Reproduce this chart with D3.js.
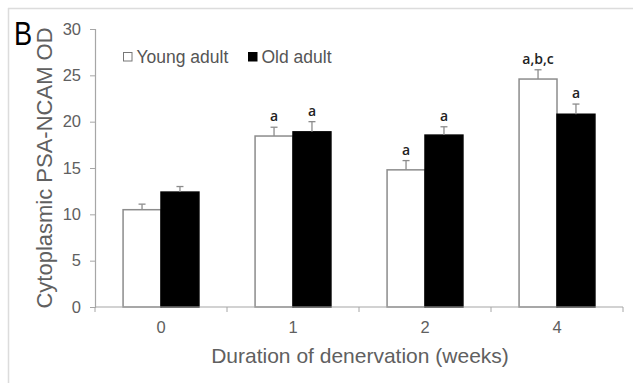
<!DOCTYPE html>
<html>
<head>
<meta charset="utf-8">
<script src="https://cdn.jsdelivr.net/npm/d3@7"></script>
<style>
  body { margin: 0; background: #fff; }
  svg { display: block; }
</style>
</head>
<body>
<div class="canvas"></div>
<script>
// chart values
const weeks = ['0', '1', '2', '4']
const groups = ['Young adult', 'Old adult']
const youngMean = [10.5, 18.45, 14.8, 24.6]
const youngErr = [0.6, 0.95, 1.0, 1.0]
const oldMean = [12.4, 18.9, 18.55, 20.8]
const oldErr = [0.6, 1.1, 0.9, 1.1]
const youngSig = ['', 'a', 'a', 'a,b,c']
const oldSig = ['', 'a', 'a', 'a']
const yTicks = [0, 5, 10, 15, 20, 25, 30]

const width = 633
const height = 383

const svg = d3.select('.canvas')
    .append('svg')
    .attr('width', width)
    .attr('height', height)

// light frame around the panel
svg.append('line')
    .attr('x1', 8).attr('x2', width).attr('y1', 8.5).attr('y2', 8.5)
    .attr('stroke', '#dcdcdc').attr('stroke-width', 1.5)
svg.append('line')
    .attr('x1', 8.5).attr('x2', 8.5).attr('y1', 8).attr('y2', height)
    .attr('stroke', '#dcdcdc').attr('stroke-width', 1.5)

const x = d3.scaleBand()
    .domain(weeks)
    .range([95, 623])
    .paddingInner(0)
    .paddingOuter(0)

const xs = d3.scaleBand()
    .domain(groups)
    .range([0, x.bandwidth()])
    .paddingOuter(0.74)

const y = d3.scaleLinear()
    .domain([0, 30])
    .range([307, 29])

const data = []
weeks.forEach((w, i) => {
    data.push({ week: w, group: groups[0], mean: youngMean[i], err: youngErr[i], sig: youngSig[i] })
    data.push({ week: w, group: groups[1], mean: oldMean[i], err: oldErr[i], sig: oldSig[i] })
})

const axisColor = '#a6a6a6'
const font = 'Liberation Sans, Arial, sans-serif'

// bars
svg.selectAll('rect.bar')
    .data(data)
    .enter()
    .append('rect')
    .attr('class', 'bar')
    .attr('x', d => x(d.week) + xs(d.group))
    .attr('y', d => y(d.mean))
    .attr('width', xs.bandwidth())
    .attr('height', d => y(0) - y(d.mean))
    .attr('fill', d => d.group === groups[0] ? '#fff' : '#000')
    .attr('stroke', d => d.group === groups[0] ? '#8c8c8c' : '#000')
    .attr('stroke-width', 1.5)

// error bars (upper only)
const eb = svg.selectAll('g.err')
    .data(data)
    .enter()
    .append('g')
    .attr('class', 'err')
    .attr('stroke', '#8c8c8c')
    .attr('stroke-width', 1.3)

eb.append('line')
    .attr('x1', d => x(d.week) + xs(d.group) + xs.bandwidth() / 2)
    .attr('x2', d => x(d.week) + xs(d.group) + xs.bandwidth() / 2)
    .attr('y1', d => y(d.mean))
    .attr('y2', d => y(d.mean + d.err))

eb.append('line')
    .attr('x1', d => x(d.week) + xs(d.group) + xs.bandwidth() / 2 - 3.5)
    .attr('x2', d => x(d.week) + xs(d.group) + xs.bandwidth() / 2 + 3.5)
    .attr('y1', d => y(d.mean + d.err))
    .attr('y2', d => y(d.mean + d.err))

// significance letters
svg.selectAll('text.sig')
    .data(data.filter(d => d.sig))
    .enter()
    .append('text')
    .attr('class', 'sig')
    .attr('x', d => x(d.week) + xs(d.group) + xs.bandwidth() / 2)
    .attr('y', d => y(d.mean + d.err) - 6)
    .attr('text-anchor', 'middle')
    .attr('font-family', 'Open Sans, sans-serif')
    .attr('font-weight', 600)
    .attr('font-size', 14)
    .attr('fill', '#222')
    .text(d => d.sig)

// axes
const yAxis = d3.axisLeft(y)
    .tickValues(yTicks)
    .tickSize(5)
    .tickPadding(9)

const yAxisGroup = svg.append('g')
    .attr('transform', 'translate(95, 0)')
    .call(yAxis)

const xAxis = d3.axisBottom(x)
    .tickSize(0)
    .tickPadding(14)

const xAxisGroup = svg.append('g')
    .attr('transform', `translate(0, ${y(0)})`)
    .call(xAxis)

// x ticks sit between categories
xAxisGroup.selectAll('line.sep')
    .data(d3.range(weeks.length + 1))
    .enter()
    .append('line')
    .attr('class', 'sep')
    .attr('x1', i => 95 + i * x.step())
    .attr('x2', i => 95 + i * x.step())
    .attr('y1', 0)
    .attr('y2', 5)
    .attr('stroke', axisColor)

;[yAxisGroup, xAxisGroup].forEach(g => {
    g.select('.domain').attr('stroke', axisColor).attr('stroke-width', 1.2)
    g.selectAll('.tick line').attr('stroke', axisColor)
    g.selectAll('text')
        .attr('font-family', font)
        .attr('font-size', 16.5)
        .attr('fill', '#606060')
})
xAxisGroup.select('.domain').attr('d', `M95,0H623`)

// axis titles
svg.append('text')
    .attr('transform', `translate(52, ${y(15)}) rotate(-90)`)
    .attr('text-anchor', 'middle')
    .attr('font-family', font)
    .attr('font-size', 22)
    .attr('fill', '#606060')
    .text('Cytoplasmic PSA-NCAM OD')

svg.append('text')
    .attr('x', 360)
    .attr('y', 363)
    .attr('text-anchor', 'middle')
    .attr('font-family', font)
    .attr('font-size', 21)
    .attr('fill', '#606060')
    .text('Duration of denervation (weeks)')

// panel letter, a bit narrower like the original
svg.append('text')
    .attr('transform', 'translate(14, 45) scale(0.8, 1)')
    .attr('font-family', font)
    .attr('font-size', 34)
    .attr('fill', '#000')
    .text('B')

// legend
const legendX = [123, 248]
const legend = svg.selectAll('g.legend')
    .data(groups)
    .enter()
    .append('g')
    .attr('class', 'legend')
    .attr('transform', (d, i) => `translate(${legendX[i]}, 52)`)

legend.append('rect')
    .attr('x', 0.5)
    .attr('y', 0.5)
    .attr('width', 8.5)
    .attr('height', 8.5)
    .attr('fill', (d, i) => i === 0 ? '#fff' : '#000')
    .attr('stroke', (d, i) => i === 0 ? '#777' : '#000')

legend.append('text')
    .attr('x', 13.5)
    .attr('y', 11)
    .attr('font-family', font)
    .attr('font-size', 17.5)
    .attr('fill', '#555')
    .text(d => d)
</script>
</body>
</html>
